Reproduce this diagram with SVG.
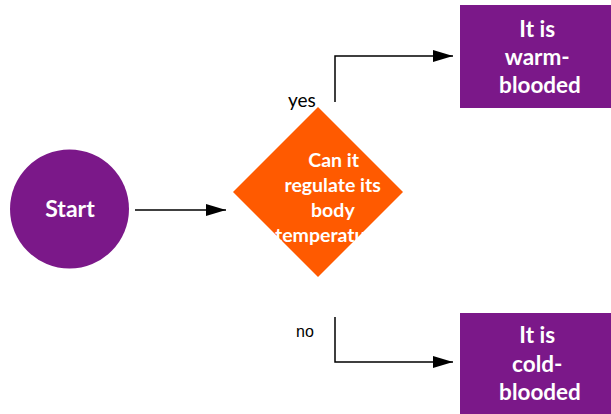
<svg xmlns="http://www.w3.org/2000/svg" width="611" height="414" viewBox="0 0 611 414">
  <style>
    .terminal { fill: #7b1889; }
    .decision { fill: #ff5a00; }
    .label { font-family: Lato, "Liberation Sans", sans-serif; font-weight: bold; fill: #ffffff; text-anchor: middle; }
    .edge { fill: none; stroke: #000000; stroke-width: 1.5; }
    .edge-label { font-family: Lato, sans-serif; font-size: 19px; fill: #000000; }
  </style>
  <defs>
    <marker id="arrow" viewBox="0 0 20 12" refX="20" refY="6" markerWidth="20" markerHeight="12" markerUnits="userSpaceOnUse" orient="auto">
      <path d="M0,0 L20,6 L0,12 Z" fill="#000000"/>
    </marker>
  </defs>

  <rect width="611" height="414" fill="#ffffff"/>

  <g id="start">
    <circle class="terminal" cx="69.5" cy="209" r="59.5"/>
    <text class="label" x="70" y="217" font-size="23">Start</text>
  </g>

  <g id="decision">
    <polygon class="decision" points="318,107 403,192 318,277 233,192"/>
    <text class="label" font-size="19.5">
      <tspan x="336" y="167">Can it</tspan>
      <tspan x="335" y="192">regulate its</tspan>
      <tspan x="335" y="217">body</tspan>
      <tspan x="329" y="242">temperature</tspan>
    </text>
  </g>

  <g id="warm">
    <rect class="terminal" x="460" y="5" width="151" height="103"/>
    <text class="label" font-size="22.5">
      <tspan x="540" y="37">It is</tspan>
      <tspan x="540" y="65">warm-</tspan>
      <tspan x="540" y="93">blooded</tspan>
    </text>
  </g>

  <g id="cold">
    <rect class="terminal" x="460" y="313" width="151" height="101"/>
    <text class="label" font-size="22.5">
      <tspan x="540" y="343">It is</tspan>
      <tspan x="540" y="372">cold-</tspan>
      <tspan x="540" y="400">blooded</tspan>
    </text>
  </g>

  <g id="connectors">
    <path class="edge" d="M135,210 H226" marker-end="url(#arrow)"/>
    <path class="edge" d="M335,102 V56 H453" marker-end="url(#arrow)"/>
    <path class="edge" d="M335,317 V362 H453" marker-end="url(#arrow)"/>
    <text class="edge-label" x="288" y="107">yes</text>
    <text x="296" y="337" font-family="'Liberation Sans', Arial, sans-serif" font-size="16" fill="#000000">no</text>
  </g>
</svg>
